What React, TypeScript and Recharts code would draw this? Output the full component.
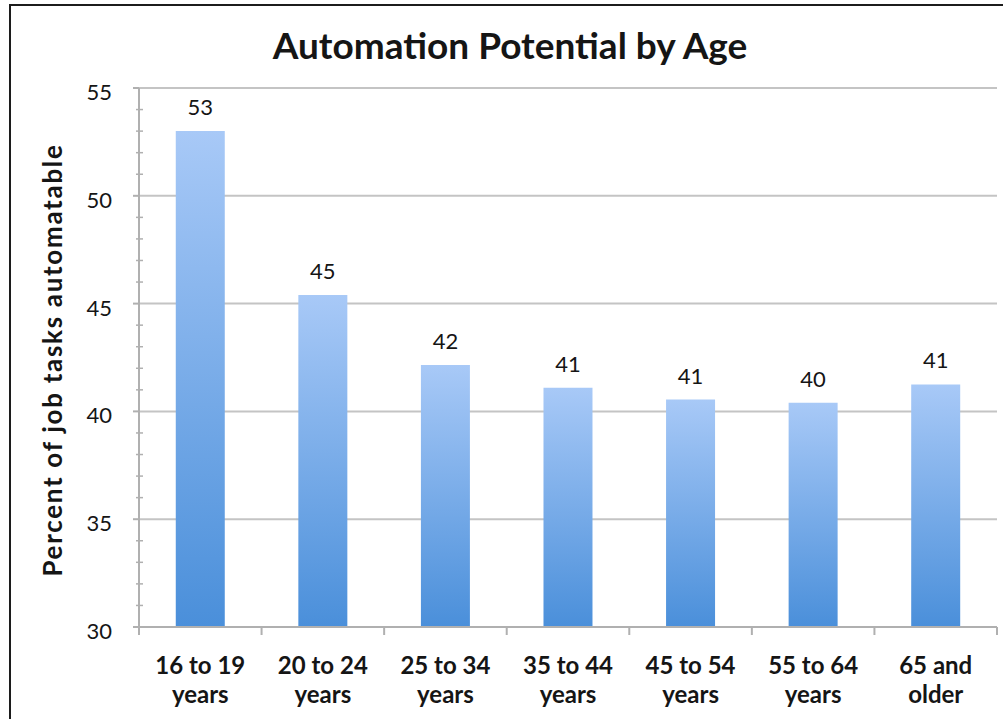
import { BarChart, Bar, XAxis, YAxis, CartesianGrid, LabelList } from 'recharts';

const categories = [
  '16 to 19 years',
  '20 to 24 years',
  '25 to 34 years',
  '35 to 44 years',
  '45 to 54 years',
  '55 to 64 years',
  '65 and older',
];
const automatable = [53.0, 45.4, 42.15, 41.1, 40.55, 40.4, 41.25];
const yTicks = [30, 31, 32, 33, 34, 35, 36, 37, 38, 39, 40, 41, 42, 43, 44, 45, 46, 47, 48, 49, 50, 51, 52, 53, 54, 55];
const gridValues = [30, 35, 40, 45, 50, 55];

const data = categories.map((label, i) => ({ label, value: automatable[i] }));

const FONT = 'Lato, "Open Sans", sans-serif';
const AXIS = '#b0b0b0';
const GRID = '#c4c4c4';
const INK = '#151515';

function YTick(props: any) {
  const { x, y, payload } = props;
  if (payload.value % 5 !== 0) {
    return <line x1={x - 3} x2={x + 4} y1={y} y2={y} stroke={AXIS} strokeWidth={1.5} />;
  }
  return (
    <g>
      <line x1={x - 6} x2={x} y1={y} y2={y} stroke={AXIS} strokeWidth={2} />
      <text x={x - 27} y={y + 12} textAnchor="end" fontSize={22} fontFamily={FONT} fill={INK}>
        {payload.value}
      </text>
    </g>
  );
}

function XTick(props: any) {
  const { x, y, payload, index, visibleTicksCount } = props;
  const half = payload.offset || 61.3;
  const words = String(payload.value).split(' ');
  const last = words.pop();
  return (
    <g>
      <line x1={x - half} x2={x - half} y1={y} y2={y + 8} stroke={AXIS} strokeWidth={2} />
      {index === visibleTicksCount - 1 && (
        <line x1={x + half} x2={x + half} y1={y} y2={y + 8} stroke={AXIS} strokeWidth={2} />
      )}
      <text x={x} y={y + 47} textAnchor="middle" fontSize={24} fontWeight={700} fontFamily={FONT} fill={INK}>
        <tspan x={x}>{words.join(' ')}</tspan>
        <tspan x={x} dy={29}>{last}</tspan>
      </text>
    </g>
  );
}

export default function App() {
  return (
    <div style={{ position: 'absolute', left: 0, top: 0, width: 1003, height: 719, background: '#fff', overflow: 'hidden' }}>
      <div
        style={{
          position: 'absolute', left: 9, top: 4, width: 1100, height: 800,
          borderLeft: '2px solid #1c1c1c', borderTop: '2px solid #1c1c1c',
        }}
      />
      <BarChart
        width={1003}
        height={719}
        data={data}
        margin={{ top: 88, right: 6, bottom: 0, left: 0 }}
        barCategoryGap="30%"
      >
        <defs>
          <linearGradient id="barGrad" x1="0" y1="0" x2="0" y2="1">
            <stop offset="0%" stopColor="#a8c9f7" />
            <stop offset="100%" stopColor="#4a8fda" />
          </linearGradient>
        </defs>
        <CartesianGrid vertical={false} horizontalValues={gridValues} stroke={GRID} strokeWidth={2} />
        <XAxis
          dataKey="label"
          height={92}
          interval={0}
          tickSize={0}
          tickMargin={0}
          tickLine={false}
          axisLine={{ stroke: AXIS, strokeWidth: 2 }}
          tick={<XTick />}
        />
        <YAxis
          width={139}
          domain={[30, 55]}
          ticks={yTicks}
          interval={0}
          tickSize={0}
          tickMargin={0}
          tickLine={false}
          axisLine={{ stroke: AXIS, strokeWidth: 2 }}
          tick={<YTick />}
        />
        <Bar dataKey="value" fill="url(#barGrad)" isAnimationActive={false}>
          <LabelList
            dataKey="value"
            position="top"
            offset={16}
            formatter={(v: any) => Math.round(Number(v))}
            style={{ fontSize: 22, fontFamily: FONT, fill: INK }}
          />
        </Bar>
      </BarChart>
      <svg width={1003} height={719} style={{ position: 'absolute', left: 0, top: 0, pointerEvents: 'none' }}>
        <text x={510} y={59} textAnchor="middle" fontSize={37} fontWeight={700} fontFamily={FONT} fill={INK}>
          Automation Potential by Age
        </text>
        <text
          x={62}
          y={360}
          textAnchor="middle"
          fontSize={26}
          fontWeight={700}
          letterSpacing={1.7}
          fontFamily={FONT}
          fill={INK}
          transform="rotate(-90 62 360)"
        >
          Percent of job tasks automatable
        </text>
      </svg>
    </div>
  );
}
